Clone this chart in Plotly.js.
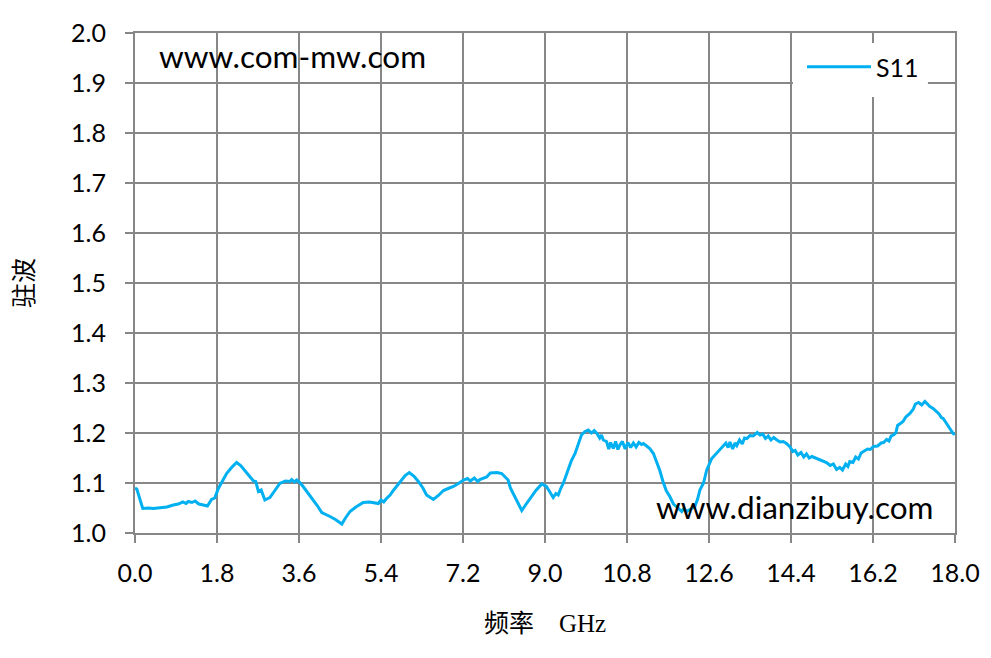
<!DOCTYPE html>
<html>
<head>
<meta charset="utf-8">
<script src="https://cdn.plot.ly/plotly-3.0.1.min.js"></script>
<style>html,body{margin:0;padding:0;background:#fff;}#chart{width:991px;height:658px;}</style>
</head>
<body>
<div id="chart"></div>
<script>
var seriesName = "S11";
var xTitle = "频率\u3000GHz";
var yTitle = "驻波";
var watermarkTop = "www.com-mw.com";
var watermarkBottom = "www.dianzibuy.com";

var freqGHz = [
0.00,0.04,0.17,0.30,0.40,0.55,0.70,0.84,0.95,1.05,1.12,1.17,1.25,1.32,1.40,1.50,1.59,1.68,1.75,1.83,
1.92,2.01,2.12,2.23,2.32,2.41,2.50,2.60,2.65,2.71,2.77,2.85,2.96,3.07,3.18,3.30,3.40,3.44,3.50,3.55,
3.62,3.69,3.80,3.91,4.00,4.10,4.20,4.28,4.40,4.54,4.62,4.72,4.85,5.01,5.15,5.34,5.40,5.46,5.52,5.60,
5.67,5.76,5.85,5.93,6.02,6.12,6.22,6.32,6.40,6.55,6.66,6.77,6.90,6.99,7.10,7.21,7.30,7.36,7.45,7.52,
7.57,7.65,7.72,7.80,7.86,7.95,8.05,8.12,8.19,8.24,8.30,8.40,8.49,8.58,8.67,8.80,8.93,9.03,9.10,9.18,
9.24,9.29,9.35,9.40,9.51,9.58,9.66,9.73,9.80,9.88,9.95,10.02,10.08,10.14,10.20,10.24,10.28,10.35,10.40,10.44,
10.50,10.55,10.60,10.65,10.70,10.76,10.82,10.88,10.94,11.00,11.06,11.12,11.16,11.23,11.30,11.38,11.45,11.52,11.59,11.66,
11.74,11.82,11.93,12.00,12.05,12.11,12.20,12.29,12.35,12.40,12.48,12.55,12.66,12.77,12.85,12.91,12.97,13.02,13.06,13.12,
13.17,13.21,13.27,13.33,13.38,13.43,13.50,13.57,13.66,13.72,13.78,13.84,13.90,13.96,14.02,14.09,14.16,14.23,14.30,14.38,
14.44,14.49,14.55,14.62,14.68,14.74,14.80,14.86,14.96,15.06,15.12,15.18,15.26,15.33,15.40,15.47,15.53,15.60,15.65,15.69,
15.76,15.82,15.88,15.94,15.99,16.08,16.14,16.21,16.30,16.38,16.43,16.50,16.55,16.60,16.65,16.70,16.74,16.79,16.86,16.92,
16.97,17.01,17.08,17.13,17.20,17.27,17.34,17.40,17.45,17.52,17.58,17.65,17.70,17.74,17.80,17.86,17.92,17.96,18.00
];
var vswr = [
1.090,1.088,1.049,1.050,1.049,1.051,1.052,1.056,1.058,1.062,1.059,1.063,1.061,1.064,1.058,1.056,1.054,1.067,1.070,1.089,
1.103,1.119,1.131,1.141,1.135,1.126,1.115,1.104,1.103,1.083,1.086,1.066,1.071,1.085,1.099,1.104,1.103,1.107,1.102,1.106,
1.101,1.093,1.080,1.066,1.055,1.041,1.037,1.033,1.027,1.018,1.030,1.043,1.052,1.061,1.062,1.059,1.066,1.062,1.069,1.076,
1.085,1.096,1.106,1.115,1.121,1.114,1.103,1.090,1.076,1.067,1.075,1.085,1.090,1.093,1.099,1.106,1.109,1.104,1.110,1.103,
1.107,1.110,1.112,1.120,1.121,1.121,1.119,1.112,1.106,1.090,1.079,1.060,1.045,1.057,1.069,1.085,1.098,1.093,1.083,1.071,
1.079,1.076,1.090,1.099,1.127,1.145,1.159,1.178,1.196,1.203,1.206,1.200,1.205,1.199,1.190,1.196,1.186,1.183,1.168,1.181,
1.169,1.183,1.167,1.177,1.183,1.168,1.181,1.171,1.180,1.172,1.181,1.177,1.179,1.174,1.169,1.159,1.143,1.125,1.103,1.085,
1.073,1.058,1.049,1.043,1.049,1.043,1.048,1.053,1.068,1.086,1.100,1.126,1.149,1.160,1.170,1.176,1.180,1.171,1.182,1.168,
1.180,1.175,1.186,1.178,1.190,1.189,1.195,1.194,1.201,1.196,1.198,1.189,1.194,1.186,1.191,1.186,1.182,1.183,1.179,1.172,
1.163,1.165,1.156,1.161,1.152,1.158,1.150,1.153,1.149,1.145,1.143,1.141,1.135,1.138,1.127,1.131,1.126,1.138,1.133,1.143,
1.141,1.152,1.148,1.160,1.163,1.168,1.167,1.173,1.174,1.180,1.181,1.187,1.184,1.194,1.196,1.200,1.215,1.219,1.223,1.232,
1.235,1.239,1.247,1.258,1.261,1.256,1.263,1.257,1.253,1.249,1.244,1.238,1.231,1.229,1.221,1.213,1.204,1.199,1.197
];

var gridColor = "#878787";
var latinFont = "Lato, 'Liberation Sans', sans-serif";
var tickFont = {family: latinFont, size: 25, color: "#000"};
var titleFont = {family: "'Liberation Serif', 'Noto Sans CJK SC', serif", size: 25, color: "#000"};

var trace = {
  x: freqGHz, y: vswr, type: "scatter", mode: "lines", name: seriesName,
  line: {color: "#00B0F0", width: 3}
};

var layout = {
  width: 991, height: 658,
  margin: {l: 135, r: 36, t: 33, b: 125},
  paper_bgcolor: "#fff", plot_bgcolor: "#fff",
  showlegend: true,
  legend: {
    x: 0.8134, y: 0.978, xanchor: "left", yanchor: "top",
    bgcolor: "rgba(255,255,255,0)", borderwidth: 0,
    itemwidth: 64,
    font: {family: latinFont, size: 25, color: "#000"}
  },
  xaxis: {
    range: [0, 18], tick0: 0, dtick: 1.8, tickformat: ".1f",
    showgrid: true, gridcolor: gridColor, gridwidth: 2,
    showline: true, linecolor: gridColor, linewidth: 2, mirror: true,
    ticks: "outside", ticklen: 8, tickwidth: 2, tickcolor: gridColor,
    ticklabelstandoff: 9,
    zeroline: false, tickfont: tickFont,
    title: {text: xTitle, font: titleFont, standoff: 28}
  },
  yaxis: {
    range: [1, 2], tick0: 1, dtick: 0.1, tickformat: ".1f",
    showgrid: true, gridcolor: gridColor, gridwidth: 2,
    showline: true, linecolor: gridColor, linewidth: 2, mirror: true,
    ticks: "outside", ticklen: 8, tickwidth: 2, tickcolor: gridColor,
    ticklabelstandoff: 14,
    zeroline: false, tickfont: tickFont,
    title: {text: yTitle, font: titleFont, standoff: 30}
  },
  shapes: [
    {type: "rect", xref: "paper", yref: "paper", x0: 0.8024, x1: 0.967, y0: 0.872, y1: 0.98,
     fillcolor: "#fff", line: {width: 0}, layer: "above"}
  ],
  annotations: [
    {text: watermarkTop, xref: "paper", yref: "paper", x: 0.0268, y: 0.954,
     xanchor: "left", yanchor: "middle", showarrow: false,
     font: {family: latinFont, size: 31.5, color: "#000"}},
    {text: watermarkBottom, xref: "paper", yref: "paper", x: 0.633, y: 0.052,
     xanchor: "left", yanchor: "middle", showarrow: false,
     font: {family: latinFont, size: 31.5, color: "#000"}}
  ]
};

Plotly.newPlot("chart", [trace], layout, {displayModeBar: false, staticPlot: true});
</script>
</body>
</html>
